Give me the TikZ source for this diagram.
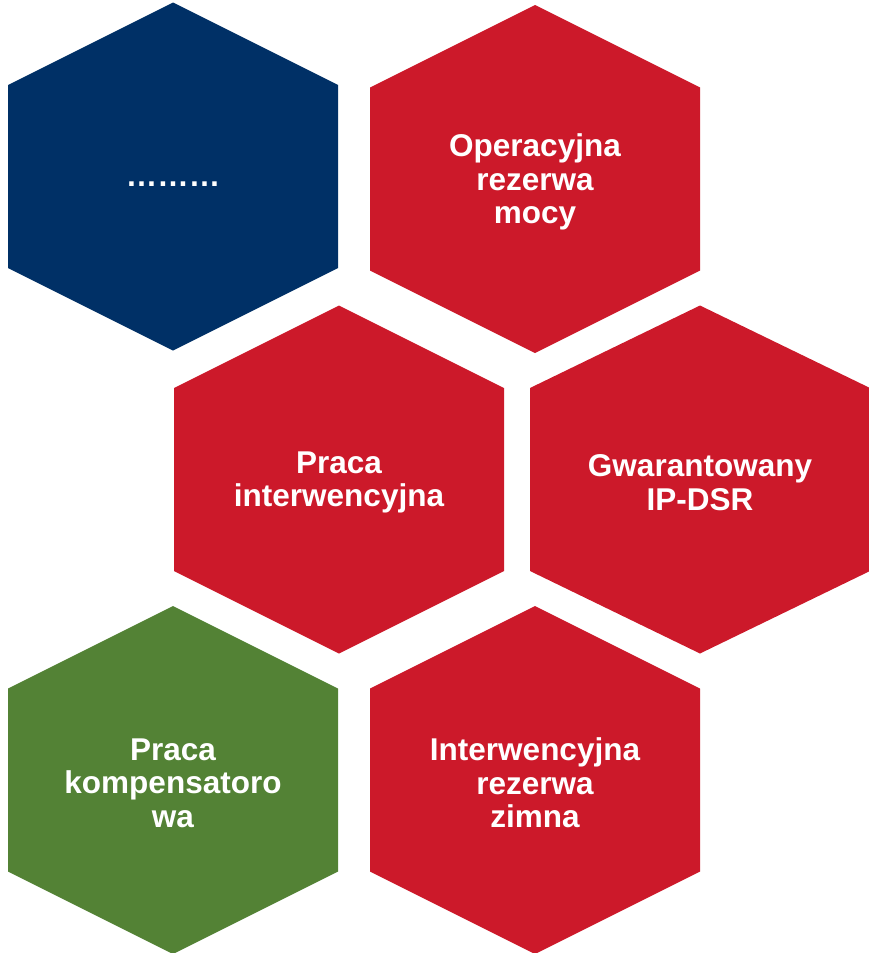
\documentclass[tikz,border=0pt]{standalone}
\usepackage{fontspec}
\setmainfont{Liberation Sans}
\definecolor{hexnavy}{RGB}{0,48,102}
\definecolor{hexred}{RGB}{204,25,42}
\definecolor{hexgreen}{RGB}{83,130,53}
\newcommand\hexagonat[5]{% name, cx, cy, half width, colour
  \fill[#5] (#2,#3-174) -- (#2+#4,#3-91.5) -- (#2+#4,#3+91.5) -- (#2,#3+174)
     -- (#2-#4,#3+91.5) -- (#2-#4,#3-91.5) -- cycle;
  \coordinate (#1) at (#2,#3);}
\tikzset{hextext/.style={text=white, align=center, inner sep=0pt, yshift=-3pt,
  font=\fontsize{31.5}{33.5}\selectfont\bfseries}}
\begin{document}
\begin{tikzpicture}[x=1pt,y=-1pt]
\useasboundingbox (0,0) rectangle (869,953);
\hexagonat{h1}{173}{176.5}{165}{hexnavy}
\hexagonat{h2}{535}{179}{165}{hexred}
\hexagonat{h3}{339}{479.5}{165}{hexred}
\hexagonat{h4}{700}{479.5}{170}{hexred}
\hexagonat{h5}{173}{780}{165}{hexgreen}
\hexagonat{h6}{535}{780}{165}{hexred}
\node[hextext, anchor=base, yshift=-6.5pt] (t1) at (h1) {………};
\node[hextext] (t2) at (h2) {Operacyjna\\rezerwa\\mocy};
\node[hextext] (t3) at (h3) {Praca\\interwencyjna};
\node[hextext] (t4) at (h4) {Gwarantowany\\IP-DSR};
\node[hextext] (t5) at (h5) {Praca\\kompensatoro\\wa};
\node[hextext] (t6) at (h6) {Interwencyjna\\rezerwa\\zimna};
\end{tikzpicture}
\end{document}
